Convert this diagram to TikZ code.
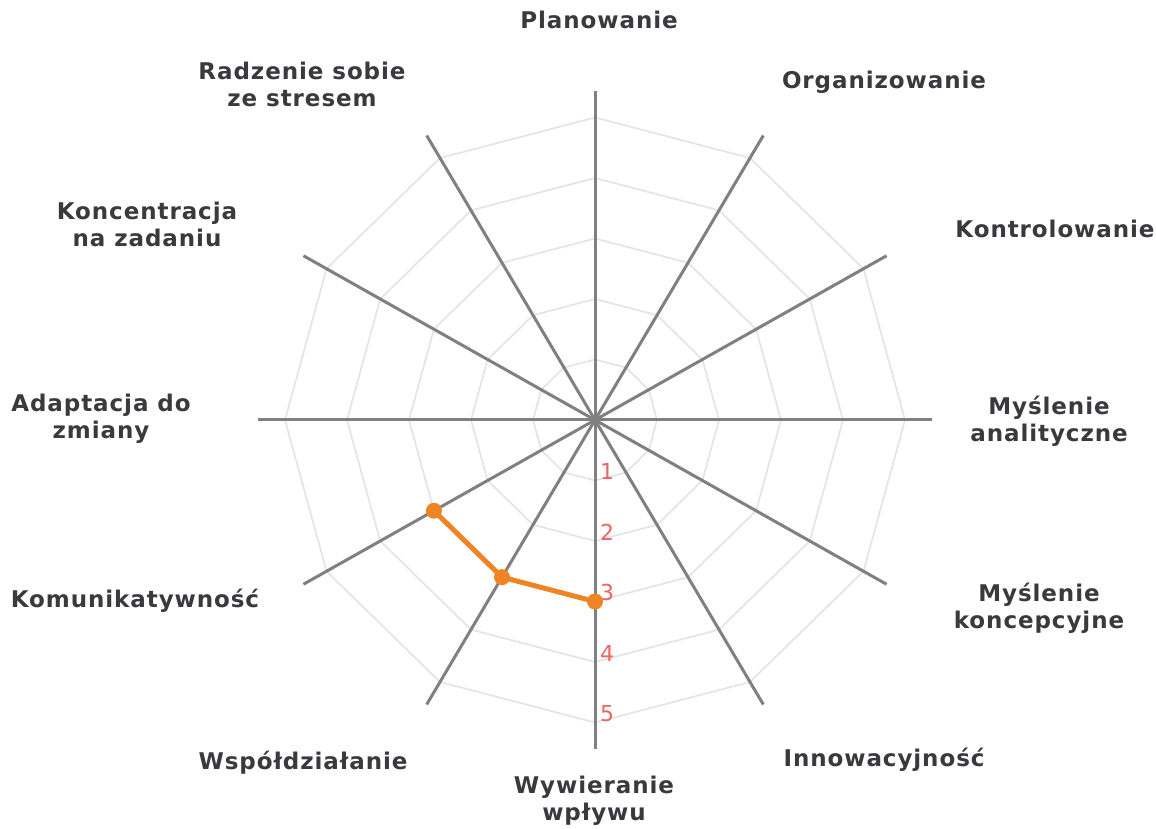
\documentclass[tikz,border=0pt]{standalone}
\usepackage{fontspec}
\setmainfont{DejaVu Sans}
\newfontfamily\lblfont{DejaVu Sans}[LetterSpace=4]
\begin{document}
\begin{tikzpicture}[x=1pt,y=1pt,
  gridline/.style={draw=black!11, line width=1.6pt, line join=round},
  axisline/.style={draw=black!50, line width=3pt},
  dataline/.style={draw=dataorange, line width=5pt, line join=round},
  datadot/.style={circle, fill=dataorange, inner sep=0pt, minimum size=16pt},
  lbl/.style={text=labelgray, font=\lblfont\fontsize{23}{27}\selectfont\bfseries, align=center, inner sep=0pt},
  num/.style={text=numred, font=\fontsize{22}{24}\selectfont, inner sep=0pt}
]
\definecolor{dataorange}{RGB}{238,132,36}
\definecolor{labelgray}{RGB}{58,58,62}
\definecolor{numred}{RGB}{236,100,100}
\useasboundingbox[fill=white] (0,0) rectangle (1156,828);
\begin{scope}[shift={(595,408)}, x=62pt, y=60.5pt]
  \coordinate (c) at (0,0);
  % grid rings
  \foreach \k in {1,...,5}{
    \draw[gridline] (90:\k) -- (60:\k) -- (30:\k) -- (0:\k) -- (-30:\k) -- (-60:\k) -- (-90:\k) -- (-120:\k) -- (-150:\k) -- (180:\k) -- (150:\k) -- (120:\k) -- cycle;
  }
  % axes
  \foreach \a/\n in {90/planowanie,60/organizowanie,30/kontrolowanie,0/analityczne,-30/koncepcyjne,-60/innowacyjnosc,-90/wywieranie,-120/wspoldzialanie,-150/komunikatywnosc,180/adaptacja,150/koncentracja,120/radzenie}{
    \coordinate (e\n) at (\a:5.43);
    \draw[axisline] (c) -- (e\n);
  }
  % scale numbers
  \foreach \k in {1,...,5}{
    \path (-90:\k) ++(12pt,9pt) node[num] (n\k) {\k};
  }
  % data
  \coordinate (d1) at (-90:3);
  \coordinate (d2) at (-120:3);
  \coordinate (d3) at (-150:3);
  \draw[dataline] (d1) -- (d2) -- (d3);
  \node[datadot] (p1) at (d1) {};
  \node[datadot] (p2) at (d2) {};
  \node[datadot] (p3) at (d3) {};
\end{scope}
% labels
\node[lbl] (lplan) at (599,808) {Planowanie};
\node[lbl] (lorg) at (884,746) {Organizowanie};
\node[lbl] (lkon) at (1055,599) {Kontrolowanie};
\node[lbl] (lana) at (1049,407) {Myślenie\\analityczne};
\node[lbl] (lkonc) at (1039,220) {Myślenie\\koncepcyjne};
\node[lbl] (linn) at (884,68) {Innowacyjność};
\node[lbl] (lwyw) at (594,27) {Wywieranie\\wpływu};
\node[lbl] (lwsp) at (303,65) {Współdziałanie};
\node[lbl] (lkom) at (135,227) {Komunikatywność};
\node[lbl] (lada) at (101,409) {Adaptacja do\\zmiany};
\node[lbl] (lkcn) at (147,604) {Koncentracja\\na zadaniu};
\node[lbl] (lrad) at (302,744) {Radzenie sobie\\ze stresem};
\end{tikzpicture}
\end{document}
